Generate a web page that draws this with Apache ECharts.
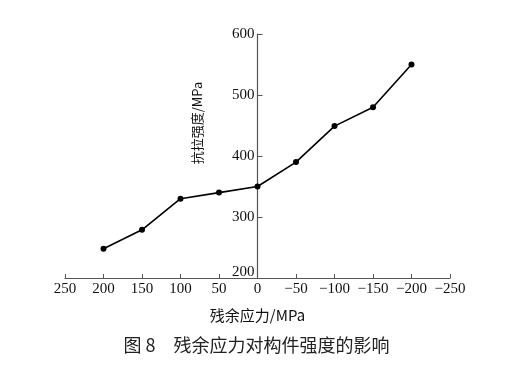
<!DOCTYPE html>
<html>
<head>
<meta charset="utf-8">
<script src="https://cdn.jsdelivr.net/npm/echarts@6/dist/echarts.min.js"></script>
<style>
html, body { margin: 0; padding: 0; background: #fff; }
#main { width: 513px; height: 376px; }
</style>
</head>
<body>
<div id="main"></div>
<script>
// 残余应力 (MPa) 与 抗拉强度 (MPa)
var stress = [200, 150, 100, 50, 0, -50, -100, -150, -200];
var strength = [248, 279, 330, 340, 350, 390, 449, 480, 550];
var xTicks = [250, -250, 50];   // max, min, interval
var yTicks = [200, 600, 100];

var points = [];
for (var i = 0; i < stress.length; i++) {
    points.push([stress[i], strength[i]]);
}

var serif = "Liberation Serif";
var cjk = "Noto Sans CJK SC";
var gridLeft = 65, gridRight = 63;
// y 轴放在 x = 0 处
var plotW = 513 - gridLeft - gridRight;
var yOffset = -plotW * (xTicks[0] - 0) / (xTicks[0] - xTicks[1]);

var myChart = echarts.init(document.getElementById("main"));
var option = {
    backgroundColor: "#ffffff",
    animation: false,
    title: {
        text: "图 8　残余应力对构件强度的影响",
        left: "center",
        top: 331,
        textStyle: {
            fontFamily: cjk,
            fontSize: 18,
            fontWeight: "normal",
            color: "#222"
        }
    },
    grid: {
        left: gridLeft,
        right: gridRight,
        top: 34,
        bottom: 98
    },
    graphic: [
        {
            type: "text",
            x: 197,
            y: 123,
            rotation: Math.PI / 2,
            style: {
                text: "抗拉强度/MPa",
                fontFamily: cjk,
                fontSize: 13,
                fill: "#111",
                align: "center",
                verticalAlign: "middle"
            }
        }
    ],
    xAxis: {
        type: "value",
        inverse: true,
        min: xTicks[1],
        max: xTicks[0],
        interval: xTicks[2],
        name: "残余应力/MPa",
        nameLocation: "middle",
        nameGap: 30,
        nameTextStyle: {
            fontFamily: cjk,
            fontSize: 15,
            color: "#111"
        },
        splitLine: { show: false },
        axisLine: {
            onZero: false,
            lineStyle: { color: "#555", width: 1.2 }
        },
        axisTick: {
            inside: true,
            length: 4,
            lineStyle: { color: "#555" }
        },
        axisLabel: {
            margin: 4,
            fontFamily: serif,
            fontSize: 15,
            color: "#111",
            formatter: function(v) {
                return String(v).replace("-", "\u2212");
            }
        }
    },
    yAxis: {
        type: "value",
        min: yTicks[0],
        max: yTicks[1],
        interval: yTicks[2],
        position: "left",
        offset: yOffset,
        splitLine: { show: false },
        axisLine: {
            show: true,
            onZero: false,
            lineStyle: { color: "#555", width: 1.2 }
        },
        axisTick: {
            show: true,
            inside: true,
            length: 5,
            lineStyle: { color: "#555" }
        },
        axisLabel: {
            margin: 3,
            fontFamily: serif,
            fontSize: 15,
            color: "#111",
            formatter: function(v) {
                return v === yTicks[0] ? "{low|" + v + "}" : String(v);
            },
            rich: {
                low: {
                    fontFamily: serif,
                    fontSize: 15,
                    color: "#111",
                    padding: [0, 0, 12, 0]
                }
            }
        }
    },
    series: [
        {
            type: "line",
            data: points,
            symbol: "circle",
            symbolSize: 6,
            itemStyle: { color: "#000" },
            lineStyle: { color: "#000", width: 1.6 }
        }
    ]
};
myChart.setOption(option);
</script>
</body>
</html>
